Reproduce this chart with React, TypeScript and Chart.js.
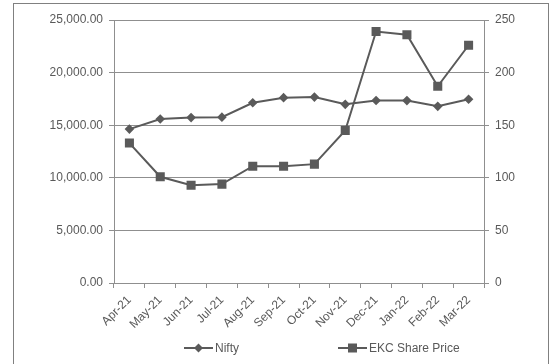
import React, { useEffect, useRef } from "react";
import { Chart, registerables } from "chart.js";

Chart.register(...registerables);

const categories = ["Apr-21", "May-21", "Jun-21", "Jul-21", "Aug-21", "Sep-21", "Oct-21", "Nov-21", "Dec-21", "Jan-22", "Feb-22", "Mar-22"];
const niftyValues = [14631, 15583, 15722, 15763, 17132, 17618, 17672, 16983, 17354, 17340, 16794, 17465];
const ekcValues = [133, 101, 93, 94, 111, 111, 113, 145, 239, 236, 187, 226];
const leftTicks = [0, 5000, 10000, 15000, 20000, 25000];
const rightTicks = [0, 50, 100, 150, 200, 250];
const seriesNames = ["Nifty", "EKC Share Price"];

const LINE = "#5a5a5a";
const TEXT = "#595959";
const GRID = "#8f8f8f";
const FONT = "'Liberation Sans', Arial, sans-serif";

const legendPlugin = {
  id: "customLegend",
  afterDraw(chart: any) {
    const ctx = chart.ctx;
    const y = 348;
    const items = [
      { x: 184, style: "diamond" },
      { x: 338, style: "square" },
    ];
    ctx.save();
    items.forEach((it, i) => {
      ctx.strokeStyle = LINE;
      ctx.lineWidth = 2;
      ctx.beginPath();
      ctx.moveTo(it.x, y);
      ctx.lineTo(it.x + 29, y);
      ctx.stroke();
      ctx.fillStyle = LINE;
      const cx = it.x + 14.5;
      if (it.style === "diamond") {
        ctx.beginPath();
        ctx.moveTo(cx, y - 4.5);
        ctx.lineTo(cx + 4.5, y);
        ctx.lineTo(cx, y + 4.5);
        ctx.lineTo(cx - 4.5, y);
        ctx.closePath();
        ctx.fill();
      } else {
        ctx.fillRect(cx - 4.5, y - 4.5, 9, 9);
      }
      ctx.fillStyle = TEXT;
      ctx.font = `12px ${FONT}`;
      ctx.textBaseline = "middle";
      ctx.textAlign = "left";
      ctx.fillText(seriesNames[i], it.x + 31, y + 0.5);
    });
    ctx.restore();
  },
};

export default function App() {
  const ref = useRef<HTMLCanvasElement>(null);
  useEffect(() => {
    if (!ref.current) return;
    const chart = new Chart(ref.current, {
      type: "line",
      data: {
        labels: categories,
        datasets: [
          {
            label: seriesNames[0],
            data: niftyValues,
            yAxisID: "y",
            borderColor: LINE,
            backgroundColor: LINE,
            borderWidth: 2,
            pointStyle: "rectRot",
            pointRadius: 4.8,
            pointBorderWidth: 0,
            tension: 0,
          },
          {
            label: seriesNames[1],
            data: ekcValues,
            yAxisID: "y1",
            borderColor: LINE,
            backgroundColor: LINE,
            borderWidth: 2,
            pointStyle: "rect",
            pointRadius: 6.4,
            pointBorderWidth: 0,
            tension: 0,
          },
        ],
      },
      options: {
        animation: false,
        responsive: false,
        layout: { padding: { top: 20, left: 0, right: 0, bottom: 0 } },
        plugins: { legend: { display: false }, tooltip: { enabled: false } },
        scales: {
          x: {
            offset: true,
            grid: { offset: true, drawOnChartArea: false, drawTicks: true, tickLength: 5, color: GRID, lineWidth: 1 },
            border: { color: GRID, width: 1 },
            ticks: { color: TEXT, font: { size: 12, family: FONT }, minRotation: 45, maxRotation: 45, padding: 5, autoSkip: false },
            afterFit: (s: any) => { s.height = 81; },
          },
          y: {
            position: "left",
            min: 0,
            max: 25000,
            afterBuildTicks: (s: any) => { s.ticks = leftTicks.map((v) => ({ value: v })); },
            grid: { color: GRID, lineWidth: 1, tickLength: 5 },
            border: { color: GRID, width: 1 },
            ticks: {
              color: TEXT,
              font: { size: 12, family: FONT },
              padding: 6,
              callback: (v: any) => Number(v).toLocaleString("en-US", { minimumFractionDigits: 2, maximumFractionDigits: 2 }),
            },
            afterFit: (s: any) => { s.width = 114; },
          },
          y1: {
            position: "right",
            min: 0,
            max: 250,
            afterBuildTicks: (s: any) => { s.ticks = rightTicks.map((v) => ({ value: v })); },
            grid: { drawOnChartArea: false, color: GRID, lineWidth: 1, tickLength: 5 },
            border: { color: GRID, width: 1 },
            ticks: { color: TEXT, font: { size: 12, family: FONT }, padding: 6 },
            afterFit: (s: any) => { s.width = 67; },
          },
        },
      },
      plugins: [legendPlugin],
    });
    return () => chart.destroy();
  }, []);
  return (
    <div style={{ position: "fixed", left: 0, top: 0, width: 551, height: 364, overflow: "hidden", background: "#fff" }}>
      <div style={{ position: "absolute", left: 13, top: 3, width: 534, height: 420, border: "1px solid #808080" }} />
      <canvas ref={ref} width={551} height={364} style={{ position: "absolute", left: 0, top: 0 }} />
    </div>
  );
}
